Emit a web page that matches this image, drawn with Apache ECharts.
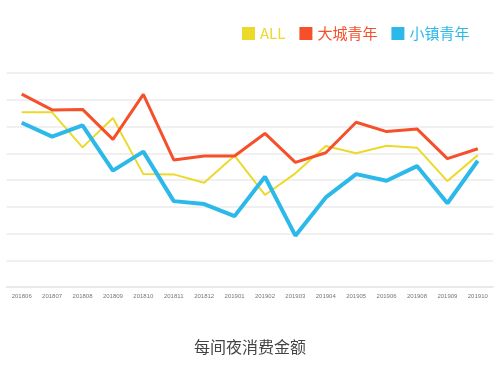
<!DOCTYPE html>
<html><head><meta charset="utf-8">
<script src="https://cdn.jsdelivr.net/npm/echarts@6/dist/echarts.min.js"></script>
<style>html,body{margin:0;padding:0;background:#fff}#c{width:500px;height:368px}</style>
</head><body><div id="c"></div>
<script>
var categories = ['201806','201807','201808','201809','201810','201811','201812','201901','201902','201903','201904','201905','201906','201908','201909','201910'];
var allValues =   [6.53,6.53,5.22,6.32,4.22,4.21,3.90,4.91,3.44,4.25,5.27,5.00,5.28,5.21,3.96,4.93];
var bigCity =     [7.21,6.62,6.64,5.52,7.20,4.75,4.90,4.90,5.74,4.66,5.02,6.16,5.81,5.91,4.80,5.17];
var smallTown =   [6.14,5.62,6.04,4.35,5.06,3.21,3.10,2.65,4.12,1.92,3.35,4.22,3.97,4.52,3.13,4.72];
var seriesNames = ['ALL','大城青年','小镇青年'];
var colors = ['#ecd92a','#f5502a','#2cb9ea'];

var chart = echarts.init(document.getElementById('c'));
chart.setOption({
  animation:false,
  title:{text:'每间夜消费金额',left:'center',top:334,textStyle:{fontSize:16,fontWeight:'normal',color:'#444',fontFamily:'Noto Sans CJK SC'}},
  legend:{left:237,top:21,icon:'rect',itemWidth:13,itemHeight:13,itemGap:14,
    textStyle:{fontSize:15,fontFamily:'Noto Sans CJK SC'},
    data:seriesNames.map(function(n,i){return {name:n,textStyle:{color:colors[i]}};})},
  grid:{left:6.5,right:7,top:73,bottom:81,containLabel:false},
  xAxis:{type:'category',data:categories,boundaryGap:true,
    axisLine:{lineStyle:{color:'#e6e6e6',width:1.5}},axisTick:{show:false},
    axisLabel:{fontSize:6,color:'#777',margin:6,interval:0}},
  yAxis:{type:'value',min:0,max:8,interval:1,axisLabel:{show:false},axisLine:{show:false},axisTick:{show:false},
    splitLine:{lineStyle:{color:'#ebebeb',width:1.5}}},
  series:[
    {name:seriesNames[0],type:'line',data:allValues,symbol:'none',color:colors[0],lineStyle:{width:2},z:2},
    {name:seriesNames[1],type:'line',data:bigCity,symbol:'none',color:colors[1],lineStyle:{width:3},z:3},
    {name:seriesNames[2],type:'line',data:smallTown,symbol:'none',color:colors[2],lineStyle:{width:4},z:4}
  ]
});
</script></body></html>
